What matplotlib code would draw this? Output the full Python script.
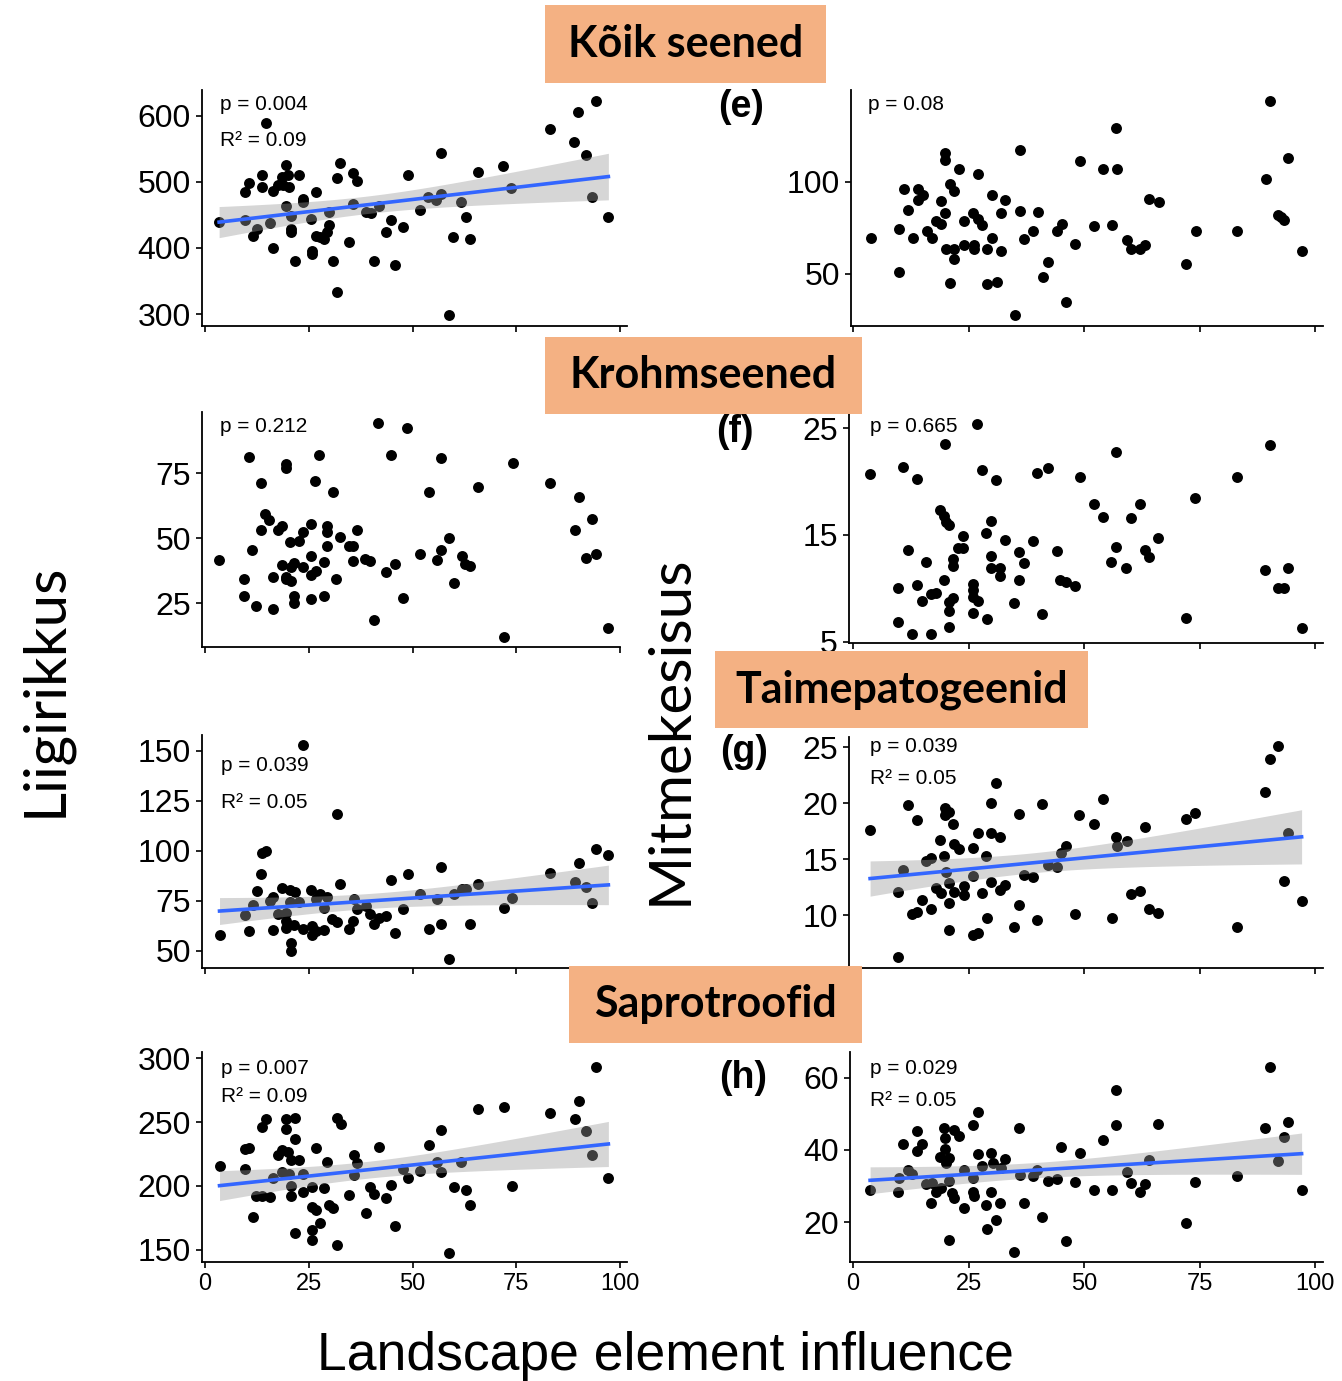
import matplotlib.pyplot as plt
from matplotlib.patches import Rectangle
import numpy as np

W, H = 1342, 1381

# (a) Kõik seened - liigirikkus
koik_rik_x = [3.4, 9.7, 9.7, 10.6, 11.6, 12.6, 13.7, 13.7, 14.7, 15.6, 16.5, 16.5, 17.5, 18.5, 18.7,
              19.5, 19.6, 19.9, 20.3, 20.7, 20.7, 20.7, 21.7, 22.7, 23.7, 23.7, 25.5, 25.8, 25.8, 26.7,
              26.7, 27.8, 28.7, 29.5, 29.8, 29.8, 30.8, 31.7, 31.7, 32.6, 34.6, 35.6, 35.7, 36.6, 38.8,
              40.0, 40.7, 41.9, 43.7, 44.9, 45.7, 47.7, 48.9, 51.7, 53.7, 55.7, 56.9, 56.9, 58.9, 59.7,
              61.8, 63.0, 63.8, 65.8, 71.8, 73.8, 83.1, 88.9, 89.9, 91.9, 93.2, 94.2, 97.2]
koik_rik_y = [440, 442, 484, 499, 418, 428, 510, 492, 589, 438, 400, 486, 495, 508, 495,
              525, 464, 510, 492, 449, 428, 424, 381, 510, 469, 474, 444, 396, 391, 484,
              418, 416, 413, 424, 435, 455, 381, 334, 506, 528, 409, 467, 514, 502, 454,
              453, 381, 463, 424, 442, 375, 432, 510, 457, 477, 472, 481, 543, 298, 416,
              469, 447, 414, 515, 524, 491, 580, 560, 606, 540, 477, 622, 447]

# (e) Kõik seened - mitmekesisus
koik_mit_x = [3.9, 9.9, 9.9, 11.0, 12.0, 13.0, 14.0, 14.1, 15.1, 16.0, 17.0, 17.9, 19.0, 19.0, 20.0,
              20.0, 20.0, 20.1, 21.0, 21.0, 21.9, 21.9, 21.9, 23.0, 24.0, 24.0, 25.9, 26.1, 26.1, 27.0,
              27.1, 28.0, 29.0, 29.0, 30.1, 30.1, 31.1, 32.1, 32.1, 33.0, 35.0, 36.1, 36.1, 37.0, 39.0,
              40.1, 41.2, 42.1, 44.1, 45.2, 46.1, 48.1, 49.2, 52.1, 54.1, 56.1, 57.0, 57.1, 59.2, 60.1,
              62.1, 63.2, 64.1, 66.3, 72.0, 74.3, 83.1, 89.4, 90.2, 92.0, 92.6, 93.3, 94.2, 97.1]
koik_mit_y = [69.6, 74.2, 51.3, 96, 84.9, 69.5, 96, 90, 92.7, 73.3, 69.5, 78.7, 77.3, 89.6, 115.5,
              111.8, 83.1, 63.6, 99.1, 44.9, 94.9, 58.2, 63.6, 107.3, 65.5, 78.7, 83.1, 65.5, 63.3, 104.5,
              80, 76.4, 63.6, 44.5, 69.5, 92.7, 45.5, 62.7, 83.1, 90.4, 27.6, 117.6, 84, 69.1, 73.3,
              83.6, 48.5, 56.7, 73.3, 77.3, 34.9, 66.4, 111.3, 76, 107.3, 76.7, 129.6, 107.3, 68.7, 63.3,
              63.3, 65.8, 90.9, 89.1, 55.5, 73.6, 73.6, 101.8, 144, 82.2, 80.9, 79.1, 113.1, 62.7]

# (b) Krohmseened - liigirikkus
krohm_rik_x = [3.4, 9.4, 9.4, 10.5, 11.4, 12.4, 13.4, 13.4, 14.4, 15.5, 16.3, 16.4, 17.5, 18.5, 18.5,
               19.5, 19.5, 19.5, 19.6, 20.5, 20.7, 20.7, 21.5, 21.5, 21.5, 22.6, 23.5, 23.5, 25.5, 25.5,
               25.5, 25.5, 26.6, 26.7, 27.5, 28.7, 28.7, 29.5, 29.5, 29.5, 30.8, 31.6, 32.5, 34.6, 35.6,
               35.6, 36.6, 38.6, 39.8, 40.8, 41.6, 43.6, 44.9, 45.9, 47.7, 48.6, 51.9, 54.0, 55.9, 56.9,
               56.9, 58.9, 59.9, 61.9, 62.7, 63.9, 65.8, 72.0, 74.1, 83.1, 89.1, 90.2, 91.9, 93.2, 94.2,
               97.2]
krohm_rik_y = [41.5, 34.4, 27.8, 81.1, 45.4, 23.9, 71.1, 53.1, 59.3, 57.1, 35.1, 22.9, 53.2, 54.5, 39.7,
               78.5, 76.9, 34.2, 35.2, 48.3, 33.5, 38.7, 40.6, 27.8, 24.9, 49, 52.2, 38.7, 55.4, 43.2,
               35.7, 26.5, 72.1, 37.4, 82, 40.9, 27.8, 54.5, 52.4, 47, 67.9, 34.4, 50.3, 47, 47,
               41.3, 53.2, 41.9, 41.3, 18.4, 94.3, 37, 82, 40, 27.1, 92.3, 43.8, 67.9, 41.6, 45.4,
               80.8, 50, 32.9, 43.2, 40, 39.1, 69.8, 12, 78.9, 71.2, 53.1, 65.9, 42.3, 57.3, 43.8,
               15.6]

# (f) Krohmseened - mitmekesisus
krohm_mit_x = [3.7, 9.8, 9.8, 10.8, 11.9, 12.8, 13.9, 13.9, 14.9, 15.9, 16.8, 16.8, 17.9, 18.8, 19.7,
               19.7, 19.9, 20.1, 20.8, 20.8, 20.8, 20.8, 21.7, 21.7, 21.7, 22.7, 23.9, 23.9, 25.9, 25.9,
               25.9, 25.9, 26.8, 27.0, 27.9, 28.8, 29.0, 29.9, 29.9, 29.9, 30.9, 31.8, 31.8, 33.0, 34.9,
               35.9, 35.9, 37.0, 39.0, 39.9, 41.0, 42.1, 44.1, 44.8, 46.1, 48.1, 49.2, 52.1, 54.1, 55.9,
               57.0, 57.0, 59.0, 60.1, 62.1, 63.2, 64.1, 66.1, 72.0, 74.1, 83.1, 89.2, 90.2, 92.0, 93.2,
               94.2, 97.1]
krohm_mit_y = [20.7, 10.0, 6.9, 21.4, 13.6, 5.7, 10.3, 20.2, 8.8, 12.5, 9.5, 5.7, 9.6, 17.3, 16.8,
               10.8, 23.5, 16.2, 15.9, 7.9, 6.4, 8.7, 9.1, 12.8, 12.1, 13.8, 14.9, 13.8, 10.4, 9.9,
               9.2, 7.7, 25.4, 8.8, 21.1, 15.2, 7.1, 16.3, 13.0, 11.9, 20.1, 11.9, 11.2, 14.5, 8.6,
               13.4, 10.8, 12.4, 14.4, 20.8, 7.6, 21.3, 13.5, 10.8, 10.6, 10.2, 20.4, 17.9, 16.7, 12.5,
               13.9, 22.8, 11.9, 16.6, 17.9, 13.6, 12.9, 14.7, 7.2, 18.5, 20.4, 11.7, 23.4, 10.0, 10.0,
               11.9, 6.3]

# (c) Taimepatogeenid - liigirikkus
taim_rik_x = [3.5, 9.7, 10.6, 11.6, 12.6, 13.6, 13.7, 14.7, 15.6, 16.5, 16.5, 17.7, 18.5, 19.5, 19.5,
              19.6, 20.5, 20.5, 20.7, 20.7, 21.5, 21.7, 22.7, 23.7, 23.7, 25.5, 25.7, 25.7, 26.7, 26.7,
              27.8, 28.6, 28.7, 29.5, 30.6, 31.7, 31.7, 32.5, 34.6, 35.6, 35.8, 36.6, 38.8, 39.8, 40.7,
              41.9, 43.7, 44.9, 45.9, 47.7, 48.9, 51.9, 53.9, 55.9, 56.9, 56.9, 58.9, 59.9, 61.9, 63.0,
              63.9, 65.9, 72.0, 74.0, 83.1, 89.1, 90.2, 91.9, 93.2, 94.2, 97.2]
taim_rik_y = [58, 67.8, 60, 72.8, 80, 88.3, 98.8, 100, 75, 77, 60.3, 68.7, 81.7, 69.2, 61.7,
              65, 80.3, 74.5, 54.2, 50, 63, 79.7, 74.7, 153, 60.8, 80.3, 62.5, 58, 75.8, 60,
              78.3, 71.3, 60.3, 77, 65.8, 118.7, 64.5, 83.7, 60.8, 65, 75.8, 70.8, 72.5, 68.7, 63.3,
              66.3, 67.5, 85.3, 58.8, 70.8, 88.7, 78.7, 61.2, 75.8, 92, 63.3, 45.8, 78.3, 80.8, 80.8,
              63.3, 83.7, 71.7, 76.7, 89.2, 84.7, 94.2, 82, 74.2, 101.2, 97.8]

# (g) Taimepatogeenid - mitmekesisus
taim_mit_x = [3.7, 9.8, 9.8, 10.8, 11.9, 12.8, 13.9, 13.9, 14.9, 15.9, 16.8, 16.8, 17.9, 18.8, 19.0,
              19.7, 19.9, 19.9, 20.1, 20.8, 20.8, 20.8, 20.8, 21.7, 21.9, 21.9, 23.0, 24.0, 24.0, 25.9,
              25.9, 25.9, 27.0, 27.0, 27.9, 28.8, 29.0, 29.9, 29.9, 29.9, 30.9, 31.8, 31.9, 32.8, 34.9,
              35.9, 35.9, 37.0, 39.0, 39.9, 41.0, 42.1, 44.1, 45.0, 46.1, 48.1, 48.9, 52.1, 54.1, 56.1,
              57.0, 57.1, 59.2, 60.1, 62.1, 63.2, 64.1, 66.1, 72.0, 74.1, 83.1, 89.2, 90.2, 92.0, 93.2,
              94.2, 97.1]
taim_mit_y = [17.6, 12.1, 6.3, 14.0, 19.8, 10.1, 10.3, 18.5, 11.4, 14.8, 15.1, 10.6, 12.4, 16.7, 12.0,
              15.3, 19.6, 18.9, 13.9, 19.2, 12.9, 11.1, 8.7, 18.1, 16.4, 12.1, 15.9, 12.6, 11.8, 16.0,
              13.5, 8.2, 8.4, 17.3, 12.0, 15.3, 9.8, 20.0, 13.0, 17.3, 21.8, 12.3, 17.0, 12.7, 9.0,
              19.0, 10.9, 13.6, 13.4, 9.6, 19.9, 14.5, 14.3, 15.6, 16.2, 10.1, 18.9, 18.1, 20.4, 9.8,
              17.0, 16.2, 16.6, 11.9, 12.2, 17.9, 10.6, 10.2, 18.6, 19.1, 9.0, 21.0, 23.9, 25.1, 13.1,
              17.3, 11.3]

# (d) Saprotroofid - liigirikkus
sapro_rik_x = [3.5, 9.7, 9.7, 10.6, 11.6, 12.4, 13.7, 13.7, 14.7, 15.6, 16.5, 17.5, 18.5, 18.5, 19.5,
               19.6, 19.9, 20.3, 20.7, 20.7, 20.7, 21.7, 21.7, 21.7, 22.7, 23.5, 23.5, 25.8, 25.8, 25.8,
               25.8, 26.7, 26.7, 27.8, 28.7, 29.5, 29.8, 30.8, 31.7, 31.7, 32.8, 34.6, 35.8, 35.8, 36.6,
               38.8, 39.8, 40.8, 41.9, 43.7, 44.9, 45.9, 47.8, 48.9, 51.9, 54.0, 55.9, 56.9, 56.9, 58.9,
               59.9, 61.8, 63.0, 63.9, 65.9, 72.0, 74.0, 83.1, 89.1, 90.2, 91.9, 93.2, 94.2, 97.2]
sapro_rik_y = [215.8, 213, 228.8, 229.8, 175.6, 192.5, 192.5, 246.1, 252.6, 191.7, 206, 224.6, 228, 211.1, 252.1,
               244.8, 226.7, 209.1, 220.2, 200.3, 192.5, 236.5, 253.1, 163.2, 220.2, 209.1, 195.1, 199, 183.9, 165.8,
               158, 229.3, 181.3, 171, 198.2, 218.9, 185.2, 182.6, 253.1, 154.1, 248.7, 193, 224.1, 208.5, 217.6,
               178.8, 199, 193.5, 230.6, 190.4, 200.8, 168.4, 213.2, 206, 211.7, 231.9, 218.9, 243.5, 211.1, 147.7,
               199.5, 218.9, 196.9, 185.2, 260.4, 261.7, 200, 257.3, 252.6, 266.1, 242.7, 224.6, 292.7, 206]

# (h) Saprotroofid - mitmekesisus
sapro_mit_x = [3.7, 9.8, 9.9, 10.8, 11.8, 12.8, 13.9, 13.9, 14.9, 15.7, 16.8, 17.0, 17.9, 18.8, 19.0,
               19.7, 19.9, 20.0, 20.1, 20.8, 20.8, 20.8, 21.4, 21.9, 21.9, 23.0, 24.0, 24.0, 25.9, 25.9,
               25.9, 26.1, 27.0, 27.0, 27.9, 28.8, 29.0, 29.9, 29.9, 30.2, 30.9, 31.8, 32.1, 33.0, 34.9,
               35.9, 36.1, 37.0, 39.0, 39.9, 41.0, 42.1, 44.1, 45.0, 46.1, 48.1, 49.2, 52.1, 54.1, 56.1,
               57.0, 57.0, 59.2, 60.1, 62.1, 63.2, 64.1, 66.1, 72.0, 74.1, 83.1, 89.2, 90.2, 92.0, 93.2,
               94.2, 97.1]
sapro_mit_y = [28.9, 28.4, 32.1, 41.6, 34.4, 33.2, 45.3, 39.7, 41.6, 30.5, 25.2, 30.7, 28.4, 38.1, 29.4,
               46.2, 43.2, 40.3, 36.3, 37.7, 31.4, 15.0, 28.0, 45.6, 26.6, 43.9, 34.4, 24.0, 46.8, 32.1,
               28.2, 27.3, 50.5, 38.8, 35.6, 24.7, 18.1, 39.1, 28.2, 36.3, 20.6, 25.2, 35.1, 37.5, 11.6,
               46.2, 33.1, 25.2, 32.9, 34.4, 21.5, 31.4, 31.9, 40.9, 14.7, 31.2, 39.1, 28.9, 42.8, 28.9,
               56.7, 46.9, 34.0, 30.7, 28.2, 30.5, 37.2, 47.1, 19.6, 31.0, 32.9, 46.2, 63.1, 37.0, 43.7,
               47.7, 28.9]

x_ticks = [0, 25, 50, 75, 100]

fig = plt.figure(figsize=(W / 100, H / 100), dpi=100)
plt.rcParams['font.family'] = ['Liberation Sans', 'DejaVu Sans']


def px(x, y):
    # piksli koordinaadid -> joonise koordinaadid
    return x / W, 1 - y / H


def paneel(rect, x0, x100, x, y, ylim, yticks, tekst_xy, p_tekst, r2_tekst=None, r2_y=None,
           sobitus=False, alumine=False):
    l, t, r, b = rect
    ax = fig.add_axes([l / W, 1 - b / H, (r - l) / W, (b - t) / H])
    pxu = (x100 - x0) / 100
    ax.set_xlim((l - x0) / pxu, (r - x0) / pxu)
    ax.set_ylim(*ylim)
    ax.scatter(x, y, s=62, color='black', linewidths=0, zorder=2)

    if sobitus:
        xa, ya = np.array(x), np.array(y)
        n = len(xa)
        b1, b0 = np.polyfit(xa, ya, 1)
        jaak = ya - (b0 + b1 * xa)
        s = np.sqrt(np.sum(jaak ** 2) / (n - 2))
        xs = np.linspace(xa.min(), xa.max(), 100)
        yh = b0 + b1 * xs
        se = s * np.sqrt(1 / n + (xs - xa.mean()) ** 2 / np.sum((xa - xa.mean()) ** 2))
        ax.fill_between(xs, yh - 1.994 * se, yh + 1.994 * se, color='#999999', alpha=0.4,
                        linewidth=0, zorder=3)
        ax.plot(xs, yh, color='#3366FF', linewidth=2.6, zorder=4)

    for sp in ['top', 'right']:
        ax.spines[sp].set_visible(False)
    for sp in ['left', 'bottom']:
        ax.spines[sp].set_linewidth(1.3)
    ax.set_xticks(x_ticks)
    ax.set_yticks(yticks)
    ax.tick_params(axis='y', labelsize=23, length=4, width=1.2, pad=4)
    ax.tick_params(axis='x', labelsize=17, length=4, width=1.2, pad=4, labelbottom=alumine)

    fx, fy = px(*tekst_xy)
    fig.text(fx, fy, p_tekst, fontsize=15, va='center', ha='left')
    if r2_tekst:
        fx, fy = px(tekst_xy[0], r2_y)
        fig.text(fx, fy, 'R\u00b2 = ' + r2_tekst, fontsize=15, va='center', ha='left')
    return ax


# vasak veerg (liigirikkus)
paneel((202, 90, 627, 326), 205, 620, koik_rik_x, koik_rik_y, (282, 639), [300, 400, 500, 600],
       (220, 104), 'p = 0.004', '0.09', 140, sobitus=True)
paneel((202, 412, 620, 647), 205, 620, krohm_rik_x, krohm_rik_y, (8.1, 98.5), [25, 50, 75],
       (220, 426), 'p = 0.212')
paneel((202, 735, 620, 968), 205, 620, taim_rik_x, taim_rik_y, (41.5, 158), [50, 75, 100, 125, 150],
       (221, 765), 'p = 0.039', '0.05', 803, sobitus=True)
paneel((202, 1052, 627, 1262), 205, 620, sapro_rik_x, sapro_rik_y, (140.6, 304.7), [150, 200, 250, 300],
       (221, 1068), 'p = 0.007', '0.09', 1096, sobitus=True, alumine=True)

# parem veerg (mitmekesisus)
paneel((851, 90, 1323, 326), 853, 1315, koik_mit_x, koik_mit_y, (21.7, 150), [50, 100],
       (868, 104), 'p = 0.08')
paneel((849, 412, 1323, 643), 853, 1315, krohm_mit_x, krohm_mit_y, (4.9, 26.5), [5, 15, 25],
       (870, 426), 'p = 0.665')
paneel((849, 737, 1323, 968), 853, 1315, taim_mit_x, taim_mit_y, (5.3, 25.9), [10, 15, 20, 25],
       (870, 747), 'p = 0.039', '0.05', 779, sobitus=True)
paneel((850, 1052, 1323, 1262), 853, 1315, sapro_mit_x, sapro_mit_y, (8.9, 67.2), [20, 40, 60],
       (870, 1068), 'p = 0.029', '0.05', 1101, sobitus=True, alumine=True)

# paneelide tähised
for lab, (lx, ly) in zip(['(e)', '(f)', '(g)', '(h)'],
                         [(741, 107), (735, 432), (744, 752), (743, 1078)]):
    fx, fy = px(lx, ly)
    fig.text(fx, fy, lab, fontsize=27, fontweight='bold', ha='center', va='center')

# pealkirjad oranžides kastides
pealkirjad = ['Kõik seened', 'Krohmseened', 'Taimepatogeenid', 'Saprotroofid']
kastid = [(545, 5, 826, 83), (545, 337, 862, 414), (715, 651, 1088, 728), (569, 966, 862, 1043)]
for tekst, (l, t, r, b) in zip(pealkirjad, kastid):
    fig.patches.append(Rectangle((l / W, 1 - b / H), (r - l) / W, (b - t) / H,
                                 transform=fig.transFigure, facecolor='#F4B183',
                                 edgecolor='none', zorder=5))
    fx, fy = px((l + r) / 2, (t + b) / 2)
    fig.text(fx, fy, tekst, fontsize=31, fontweight='bold', ha='center', va='center',
             family=['Lato', 'DejaVu Sans'], zorder=6)

# telgede nimed
fx, fy = px(45, 690)
fig.text(fx, fy, 'Liigirikkus', fontsize=42, rotation=90, ha='center', va='center',
         family=['Lato', 'DejaVu Sans'])
fx, fy = px(670, 730)
fig.text(fx, fy, 'Mitmekesisus', fontsize=42, rotation=90, ha='center', va='center',
         family=['Lato', 'DejaVu Sans'])
fx, fy = px(665, 1356)
fig.text(fx, fy, 'Landscape element influence', fontsize=38.5, ha='center', va='center')

fig.savefig('out.png', dpi=100)
